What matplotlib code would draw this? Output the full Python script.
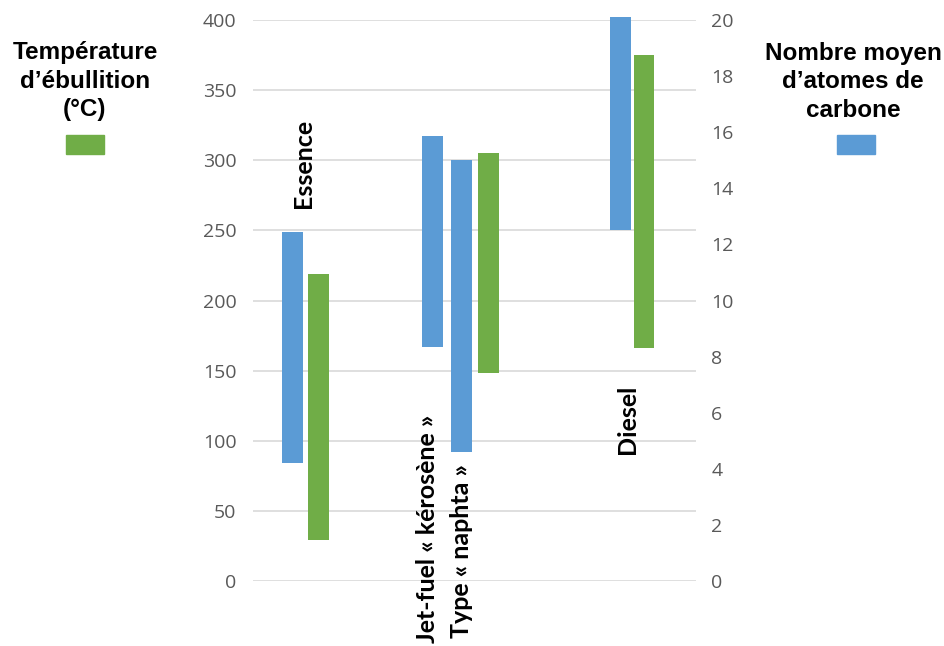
import matplotlib
matplotlib.use("Agg")
import matplotlib.pyplot as plt
from matplotlib.patches import Rectangle

# --- data -------------------------------------------------------------
fuels = ["Essence", "Jet-fuel « kérosène »", "Type « naphta »", "Diesel"]
carbon_min = [4.2, 8.35, 4.6, 12.5]      # nombre moyen d'atomes de carbone
carbon_max = [12.45, 15.85, 15.0, 20.1]

temp_fuels = ["Essence", "Jet-fuel", "Diesel"]
temp_min = [29, 148, 166]                # température d'ébullition (°C)
temp_max = [219, 305, 375]

temp_ticks = list(range(0, 401, 50))
carbon_ticks = list(range(0, 21, 2))

# --- layout -------------------------------------------------------------
carbon_pos = [0.885, 4.045, 4.70, 8.30]
temp_pos = [1.474, 5.323, 8.826]
bar_w = 0.47

BLUE = "#5B9BD5"
GREEN = "#70AD47"
TICK = "#595959"
GRID = "#D9D9D9"

fig = plt.figure(figsize=(9.44, 6.46), dpi=100)
ax = fig.add_axes([253 / 944, 65 / 646, 443 / 944, 561 / 646])
ax2 = ax.twinx()

ax.set_xlim(0, 10)
ax.set_ylim(0, 400)
ax2.set_ylim(0, 20)

# temperature ranges (left axis)
ax.bar(temp_pos, [hi - lo for lo, hi in zip(temp_min, temp_max)],
       bottom=temp_min, width=bar_w, color=GREEN, zorder=3, clip_on=False)
# carbon-number ranges (right axis)
ax2.bar(carbon_pos, [hi - lo for lo, hi in zip(carbon_min, carbon_max)],
        bottom=carbon_min, width=bar_w, color=BLUE, zorder=3, clip_on=False)

ax.set_yticks(temp_ticks)
ax2.set_yticks(carbon_ticks)
ax.set_xticks([])
ax.yaxis.grid(True, color=GRID, linewidth=1.2, zorder=0)
ax.set_axisbelow(True)

for a in (ax, ax2):
    for s in a.spines.values():
        s.set_visible(False)
    a.tick_params(axis="y", length=0, labelcolor=TICK, labelsize=14)
    for lab in a.get_yticklabels():
        lab.set_family("Open Sans")
ax.tick_params(axis="y", pad=12)
ax2.tick_params(axis="y", pad=11)

# category labels, rotated
lab_kw = dict(rotation=90, fontsize=18, fontweight="bold",
              family="Lato", color="black", ha="center")
ax.text(1.13, 266, fuels[0], va="bottom", **lab_kw)
ax.text(3.93, 118.5, fuels[1], va="top", **lab_kw)
ax.text(4.71, 83, fuels[2], va="top", **lab_kw)
ax.text(8.465, 140, fuels[3], va="top", **lab_kw)

# legend blocks
leg_kw = dict(fontsize=17.5, fontweight="bold", family="Liberation Sans",
              ha="center", va="center", linespacing=1.3)
fig.text(85 / 944, 1 - 81 / 646, "Température\nd’ébullition\n(°C)", **leg_kw)
fig.text(853 / 944, 1 - 82 / 646, "Nombre moyen\nd’atomes de\ncarbone", **leg_kw)
fig.patches.append(Rectangle((66 / 944, 1 - 154 / 646), 38 / 944, 19 / 646,
                             transform=fig.transFigure, color=GREEN))
fig.patches.append(Rectangle((837 / 944, 1 - 154 / 646), 38 / 944, 19 / 646,
                             transform=fig.transFigure, color=BLUE))

fig.savefig("out.png", dpi=100, facecolor="white")
